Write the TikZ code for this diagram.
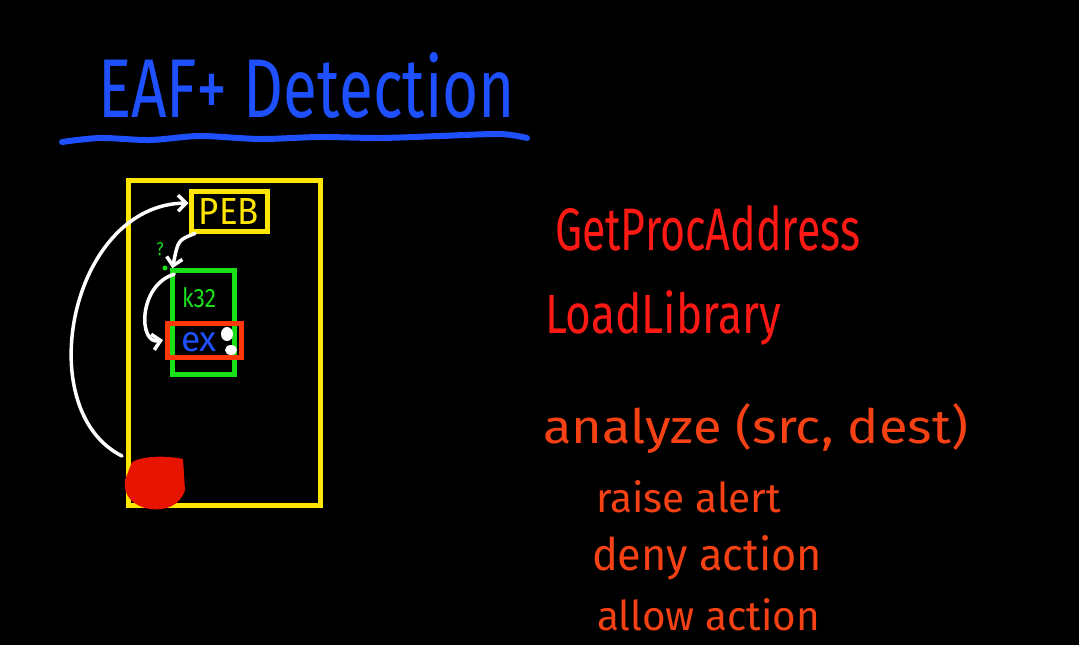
\documentclass[tikz,border=0pt]{standalone}
\usepackage{fontspec}
\usepackage{graphicx}
\setmainfont{Fira Sans}
\usetikzlibrary{arrows.meta}
\definecolor{tblue}{RGB}{30,80,255}
\definecolor{tred}{RGB}{255,25,20}
\definecolor{torange}{RGB}{245,65,20}
\definecolor{tyellow}{RGB}{255,230,0}
\definecolor{tgreen}{RGB}{25,225,25}
\definecolor{tbox}{RGB}{255,55,10}
\definecolor{tblob}{RGB}{230,20,0}
\tikzset{
  txt/.style={anchor=base west, inner sep=0pt, outer sep=0pt},
  wire/.style={white, line width=3.5pt, line cap=round, -{Straight Barb[length=8pt,width=16pt,line width=3.5pt]}},
  boxy/.style={draw=tyellow, line width=5pt, inner sep=0pt},
  boxg/.style={draw=tgreen, line width=4.5pt, inner sep=0pt},
}
\begin{document}
\begin{tikzpicture}[x=1pt,y=-1pt]
\fill[black] (0,0) rectangle (1079,645);
\useasboundingbox (0,0) rectangle (1079,645);
% title
\node[txt, text=tblue] (title) at (98,117) {\resizebox{417pt}{65pt}{EAF+ Detection}};
\draw[tblue, line width=6pt, line cap=round] plot[smooth] coordinates {(62,142) (100,138) (150,140) (200,136) (260,139) (320,137) (380,138) (440,136) (500,134) (527,138)};
% process box
\node[boxy, minimum width=192pt, minimum height=325pt] (proc) at (224,342.5) {};
\node[boxy, minimum width=76pt, minimum height=40pt, text=tyellow] (peb) at (229,211) {\resizebox{60pt}{26pt}{PEB}};
\node[boxg, minimum width=62pt, minimum height=104pt] (k32) at (203.5,322.5) {};
\node[txt, text=tgreen] (k32lbl) at (182,307) {\resizebox{34pt}{20pt}{k32}};
\node[draw=tbox, line width=5pt, minimum width=74pt, minimum height=34pt, inner sep=0pt] (ex) at (204.5,340) {};
\node[txt, text=tblue] (exlbl) at (181,351) {\resizebox{36pt}{19pt}{ex}};
\fill[white] (227,334) ellipse (6pt and 7pt);
\fill[white] (231,350) ellipse (6pt and 5pt);
\node[text=tgreen, inner sep=0pt] (q) at (160,249) {\resizebox{7pt}{13pt}{?}};
\fill[tgreen] (165,268) circle (2.5pt);
% blob
\fill[tblob] (132,462) .. controls (145,455) and (170,456) .. (183,459)
  -- (185,490) .. controls (180,506) and (165,511) .. (150,509)
  .. controls (132,506) and (123,495) .. (125,480) -- cycle;
\coordinate (src) at (122,456);
% arrows
\draw[wire] (src) .. controls (30,410) and (70,205) .. ([yshift=8pt]peb.west);
\draw[wire] ([xshift=-34pt]peb.south) .. controls (178,240) .. ([xshift=-31pt]k32.north);
\draw[wire] ([xshift=4pt,yshift=-6pt]k32.north west) .. controls (138,285) and (138,345) .. ([xshift=-2pt]ex.west);
% right text
\node[txt, text=tred] (gpa) at (555,250) {\resizebox{305pt}{45pt}{GetProcAddress}};
\node[txt, text=tred] (ll) at (545,333) {\resizebox{236pt}{43pt}{LoadLibrary}};
\node[txt, text=torange] (an) at (543,443) {\resizebox{425pt}{40pt}{analyze (src, dest)}};
\node[txt, text=torange] (ra) at (596,512) {\resizebox{185pt}{32pt}{raise alert}};
\node[txt, text=torange] (da) at (592,570) {\resizebox{230pt}{35pt}{deny action}};
\node[txt, text=torange] (aa) at (597,630) {\resizebox{223pt}{32pt}{allow action}};
\end{tikzpicture}
\end{document}
